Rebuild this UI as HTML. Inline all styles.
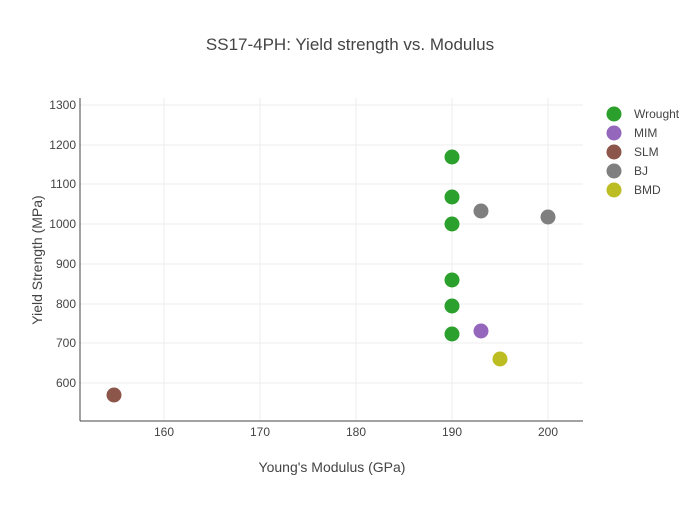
<!DOCTYPE html>
<html><head><style>body{margin:0;background:#fff;font-family:"Liberation Sans",sans-serif}</style></head><body>
<svg width="700" height="500" xmlns="http://www.w3.org/2000/svg" font-family="Liberation Sans, sans-serif">
<rect width="700" height="500" fill="#fff"/>
<text x="350" y="50" text-anchor="middle" font-size="17" fill="#444">SS17-4PH: Yield strength vs. Modulus</text>
<g stroke="#eee" stroke-width="1">
<line x1="164" y1="98" x2="164" y2="421"/><line x1="260" y1="98" x2="260" y2="421"/><line x1="356" y1="98" x2="356" y2="421"/><line x1="452" y1="98" x2="452" y2="421"/><line x1="548" y1="98" x2="548" y2="421"/>
<line x1="80" y1="105" x2="583" y2="105"/><line x1="80" y1="145" x2="583" y2="145"/><line x1="80" y1="184" x2="583" y2="184"/><line x1="80" y1="224" x2="583" y2="224"/><line x1="80" y1="264" x2="583" y2="264"/><line x1="80" y1="304" x2="583" y2="304"/><line x1="80" y1="343" x2="583" y2="343"/><line x1="80" y1="383" x2="583" y2="383"/>
</g>
<line x1="80" y1="98" x2="80" y2="421" stroke="#444"/>
<line x1="80" y1="421" x2="583" y2="421" stroke="#444"/>
<g font-size="12" fill="#444" text-anchor="middle">
<text x="164" y="436">160</text><text x="260" y="436">170</text><text x="356" y="436">180</text><text x="452" y="436">190</text><text x="548" y="436">200</text>
</g>
<g font-size="12" fill="#444" text-anchor="end">
<text x="76" y="109">1300</text><text x="76" y="149">1200</text><text x="76" y="188">1100</text><text x="76" y="228">1000</text><text x="76" y="268">900</text><text x="76" y="308">800</text><text x="76" y="347">700</text><text x="76" y="387">600</text>
</g>
<text x="332" y="472" text-anchor="middle" font-size="14" fill="#444">Young's Modulus (GPa)</text>
<text transform="translate(42,260) rotate(-90)" text-anchor="middle" font-size="14" fill="#444">Yield Strength (MPa)</text>
<g fill="#2ca02c"><circle cx="452" cy="157" r="7.5"/><circle cx="452" cy="197" r="7.5"/><circle cx="452" cy="224" r="7.5"/><circle cx="452" cy="280" r="7.5"/><circle cx="452" cy="306" r="7.5"/><circle cx="452" cy="334" r="7.5"/></g>
<circle cx="481" cy="331" r="7.5" fill="#9467bd"/>
<circle cx="114" cy="395" r="7.5" fill="#8c564b"/>
<circle cx="481" cy="211" r="7.5" fill="#7f7f7f"/><circle cx="548" cy="217" r="7.5" fill="#7f7f7f"/>
<circle cx="500" cy="359" r="7.5" fill="#bcbd22"/>
<g font-size="12" fill="#444">
<circle cx="614" cy="114" r="7.5" fill="#2ca02c"/><text x="634" y="118">Wrought</text>
<circle cx="614" cy="133" r="7.5" fill="#9467bd"/><text x="634" y="137">MIM</text>
<circle cx="614" cy="152" r="7.5" fill="#8c564b"/><text x="634" y="156">SLM</text>
<circle cx="614" cy="171" r="7.5" fill="#7f7f7f"/><text x="634" y="175">BJ</text>
<circle cx="614" cy="190" r="7.5" fill="#bcbd22"/><text x="634" y="194">BMD</text>
</g>
</svg>
</body></html>
